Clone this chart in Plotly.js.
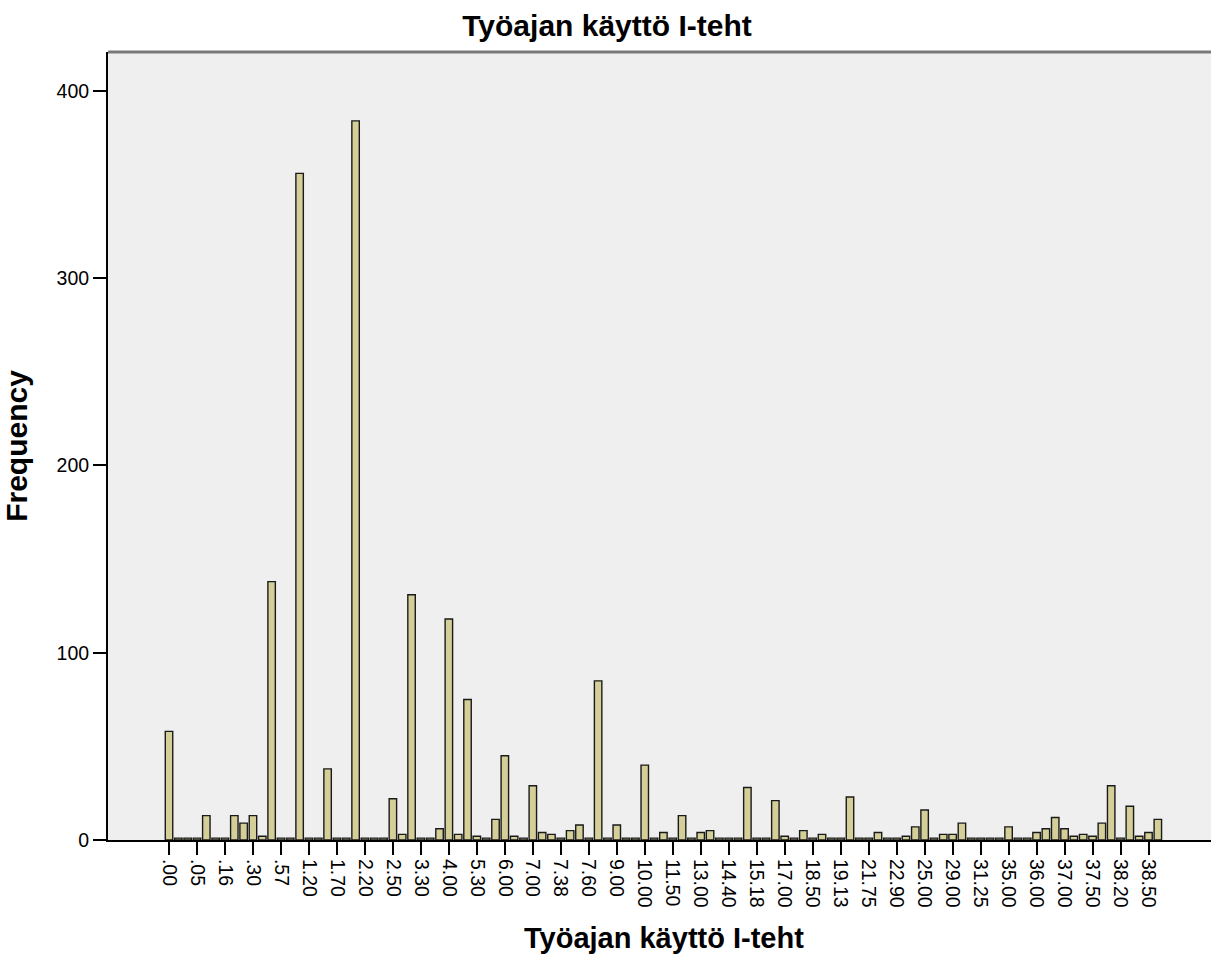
<!DOCTYPE html>
<html>
<head>
<meta charset="utf-8">
<script src="https://cdn.plot.ly/plotly-3.0.1.min.js"></script>
<style>html,body{margin:0;padding:0;background:#fff;}#chart{width:1211px;height:958px;}</style>
</head>
<body>
<div id="chart"></div>
<script>
// Frequency of each distinct value (107 categories, in order)
const frequencies = [
  58, 1, 1, 1, 13, 1, 1, 13, 9, 13,
  2, 138, 1, 1, 356, 1, 1, 38, 1, 1,
  384, 1, 1, 1, 22, 3, 131, 1, 1, 6,
  118, 3, 75, 2, 1, 11, 45, 2, 1, 29,
  4, 3, 1, 5, 8, 1, 85, 1, 8, 1,
  1, 40, 1, 4, 1, 13, 1, 4, 5, 1,
  1, 1, 28, 1, 1, 21, 2, 1, 5, 1,
  3, 1, 1, 23, 1, 1, 4, 1, 1, 2,
  7, 16, 1, 3, 3, 9, 1, 1, 1, 1,
  7, 1, 1, 4, 6, 12, 6, 2, 3, 2,
  9, 29, 1, 18, 2, 4, 11
];
// Tick labels, shown on every third category
const tickLabels = ['.00','.05','.16','.30','.57','1.20','1.70','2.20','2.50','3.30','4.00','5.30',
  '6.00','7.00','7.38','7.60','9.00','10.00','11.50','13.00','14.40','15.18','17.00','18.50',
  '19.13','21.75','22.90','25.00','29.00','31.25','35.00','36.00','37.00','37.50','38.20','38.50'];
const labelStep = 3;
const titleText = 'Työajan käyttö I-teht';
const yTitle = 'Frequency';

const xIdx = frequencies.map((_, i) => i);
const tickVals = tickLabels.map((_, i) => i * labelStep);

const font = 'Arial, "Liberation Sans", sans-serif';
const trace = {
  type: 'bar', x: xIdx, y: frequencies, width: 0.8,
  marker: {color: '#D4CF99', line: {color: '#1a1a1a', width: 1.4}},
  hoverinfo: 'y'
};
const L = 108, T = 52, W = 1211, H = 958, B = 118;
const plotH = H - B - T, plotW = W - L;
const layout = {
  width: W, height: H,
  margin: {l: L, r: 0, t: T, b: B, pad: 0},
  paper_bgcolor: '#fff', plot_bgcolor: '#EFEFEF',
  showlegend: false,
  bargap: 0,
  title: {text: '<b>' + titleText + '</b>', font: {family: font, size: 30, color: '#000'},
          xref: 'container', x: 607 / W, xanchor: 'center', yref: 'container', y: 1 - 25 / H, yanchor: 'middle'},
  xaxis: {
    range: [-6.54, 111.7], tickmode: 'array', tickvals: tickVals, ticktext: tickLabels,
    tickangle: 90, ticks: 'outside', ticklen: 13, tickwidth: 2, tickcolor: '#000',
    showline: true, linecolor: '#000', linewidth: 2, showgrid: false, zeroline: false,
    tickfont: {family: font, size: 19.5, color: '#000'}
  },
  yaxis: {
    range: [0, 420.8], tickvals: [0, 100, 200, 300, 400],
    ticks: 'outside', ticklen: 13, tickwidth: 2, tickcolor: '#000',
    showline: true, linecolor: '#000', linewidth: 2, showgrid: false, zeroline: false,
    tickfont: {family: font, size: 19.5, color: '#000'},
    title: {text: '<b>' + yTitle + '</b>', font: {family: font, size: 30, color: '#000'}, standoff: 20}
  },
  shapes: [
    {type: 'line', xref: 'paper', yref: 'paper', x0: 0, x1: 1, y0: 1, y1: 1, line: {color: '#7a7a7a', width: 3}}
  ],
  annotations: [
    {text: '<b>' + titleText + '</b>', xref: 'paper', yref: 'paper',
     x: (664 - L) / plotW, y: -(956 - (H - B)) / plotH, xanchor: 'center', yanchor: 'bottom',
     showarrow: false, font: {family: font, size: 29, color: '#000'}}
  ]
};
Plotly.newPlot('chart', [trace], layout, {staticPlot: true});
</script>
</body>
</html>
